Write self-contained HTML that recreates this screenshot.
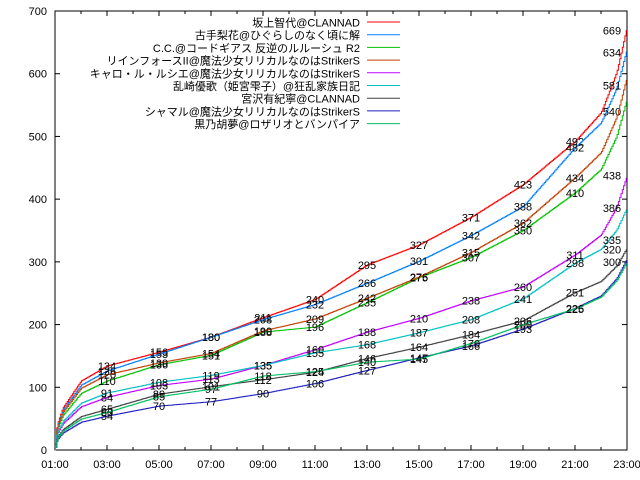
<!DOCTYPE html>
<html><head><meta charset="utf-8"><style>
body{margin:0;background:#fff}
svg{display:block}
text{font-family:"Liberation Sans","Noto Sans CJK JP",sans-serif;font-size:11px}
</style></head><body>
<svg id="s" width="640" height="480" xmlns="http://www.w3.org/2000/svg"></svg>
<script>
const s=document.getElementById('s');
const X0=55,X1=627,Y0=450,Y1=11;
const px=h=>X0+(h-1)*(X1-X0)/22, py=v=>Y0-v*(Y0-Y1)/700;
let o='<rect x="0" y="0" width="640" height="480" fill="#fff"/>';
o+=`<rect x="${X0}" y="${Y1}" width="${X1-X0}" height="${Y0-Y1}" fill="none" stroke="#000" stroke-width="1"/>`;
for(let v=0;v<=700;v+=100){const y=py(v);o+=`<line x1="${X0}" x2="${X0+5}" y1="${y}" y2="${y}" stroke="#000"/><line x1="${X1-5}" x2="${X1}" y1="${y}" y2="${y}" stroke="#000"/><text x="${X0-8}" y="${y+4}" text-anchor="end" font-family="Liberation Mono">${v}</text>`;}
for(let h=1;h<=23;h++){const x=px(h);const L=h%2?5:3;o+=`<line x1="${x}" x2="${x}" y1="${Y0}" y2="${Y0-L}" stroke="#000"/><line x1="${x}" x2="${x}" y1="${Y1}" y2="${Y1+L}" stroke="#000"/>`;
 if(h%2)o+=`<text x="${x}" y="468" text-anchor="middle" font-family="Liberation Mono">${String(h).padStart(2,'0')}:00</text>`;}
const S=[
["坂上智代@CLANNAD","#ff0000",[134,156,180,211,240,295,327,371,423,492,669],675],
["古手梨花@ひぐらしのなく頃に解","#0080ff",[126,153,180,208,232,266,301,342,388,482,634],640],
["C.C.@コードギアス 反逆のルルーシュ R2","#00c000",[110,136,151,188,196,235,275,307,350,410,540],560],
["リインフォースII@魔法少女リリカルなのはStrikerS","#c04000",[120,139,154,190,209,242,276,315,362,434,581],595],
["キャロ・ル・ルシエ@魔法少女リリカルなのはStrikerS","#c000ff",[84,103,113,135,160,188,210,238,260,311,438],438],
["乱崎優歌（姫宮雫子）@狂乱家族日記","#00c0c0",[91,108,119,135,155,168,187,208,241,298,386],386],
["宮沢有紀寧@CLANNAD","#404040",[65,89,101,112,124,146,164,184,206,251,335],322],
["シャマル@魔法少女リリカルなのはStrikerS","#2020c0",[54,70,77,90,106,127,147,166,193,226,300],305],
["黒乃胡夢@ロザリオとバンパイア","#00c060",[60,85,97,118,125,140,145,170,200,225,320],300]];
S.forEach((d,i)=>{
 const [name,col,v]=d;
 const A=[[1,0],[1.08,v[0]*0.3],[1.3,v[0]*0.5],[2,v[0]*0.82]];
 for(let k=0;k<10;k++){const h=3+2*k;A.push([h,v[k]]);}
 A.push([22,v[9]+(d[3]-v[9])*0.25]);A.push([22.6,v[9]+(d[3]-v[9])*0.6]);A.push([23,d[3]]);
 let p=`M${px(1)},${py(0)}`;
 for(let h=1.02;h<=23.001;h+=0.05){
  let j=0;while(j<A.length-2&&A[j+1][0]<h)j++;
  const t=(h-A[j][0])/(A[j+1][0]-A[j][0]);const val=A[j][1]+(A[j+1][1]-A[j][1])*Math.min(1,Math.max(0,t));
  p+=`H${px(h).toFixed(1)}V${py(val).toFixed(1)}`;
 }
 o+=`<path d="${p}" fill="none" stroke="${col}" stroke-width="1"/>`;
 const ly=22+i*12.7;
 o+=`<text x="360" y="${ly+4.5}" text-anchor="end" font-size="12">${name}</text><line x1="367" x2="400" y1="${ly}" y2="${ly}" stroke="${col}"/>`;
 for(let k=0;k<11;k++){const h=3+2*k;const x=k==10?612:px(h);o+=`<text x="${x}" y="${py(v[k])+4}" text-anchor="middle" font-family="Liberation Mono">${v[k]}</text>`;}
});
s.innerHTML=o;
</script>
</body></html>
